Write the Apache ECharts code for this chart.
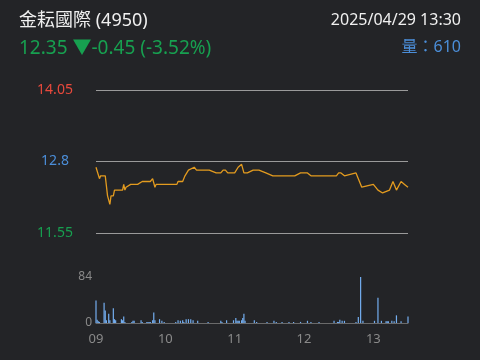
<!DOCTYPE html>
<html><head><meta charset="utf-8">
<script src="https://cdn.jsdelivr.net/npm/echarts/dist/echarts.min.js"></script>
<style>html,body{margin:0;padding:0;background:#232427;}#c{width:480px;height:360px;}</style>
</head><body><div id="c"></div>
<script>
const stockName = '金耘國際 (4950)';
const priceInfo = '12.35 ▼-0.45 (-3.52%)';
const dateText = '2025/04/29 13:30';
const volumeText = '量：610';
const hourLabels = ['09', '10', '11', '12', '13'];
const priceTicks = [11.55, 12.8, 14.05];
const priceTickColors = ['#17a050', '#4b8ed9', '#e8493c'];
const volumeMax = 84;

// minutes after 09:00 and price
const priceMinutes = [0, 3, 4, 8, 10, 12, 13, 15, 16, 23, 24, 25, 26, 30, 36, 40, 47, 49, 51, 52, 70, 71, 75, 77, 80, 85, 87, 89, 98, 104, 108, 110, 112, 114, 120, 123, 126, 128, 131, 136, 138, 141, 147, 153, 172, 177, 183, 186, 208, 210, 212, 215, 225, 227, 230, 240, 244, 248, 254, 257, 260, 264, 267, 270];
const priceValues = [12.70, 12.50, 12.55, 12.55, 12.20, 12.05, 12.20, 12.20, 12.30, 12.30, 12.40, 12.30, 12.35, 12.40, 12.40, 12.45, 12.45, 12.50, 12.35, 12.40, 12.40, 12.45, 12.45, 12.55, 12.65, 12.70, 12.65, 12.65, 12.65, 12.60, 12.60, 12.65, 12.65, 12.60, 12.60, 12.70, 12.75, 12.60, 12.60, 12.65, 12.65, 12.65, 12.60, 12.55, 12.55, 12.60, 12.60, 12.55, 12.55, 12.60, 12.60, 12.55, 12.60, 12.50, 12.35, 12.40, 12.30, 12.25, 12.30, 12.45, 12.30, 12.45, 12.40, 12.35];

// minutes after 09:00 and volume
const volMinutes = [0, 1, 2, 3, 7, 8, 9, 11, 12, 15, 16, 17, 22, 23, 24, 25, 31, 32, 33, 39, 40, 44, 45, 46, 47, 49, 50, 51, 55, 57, 59, 69, 71, 73, 75, 76, 78, 80, 82, 84, 88, 97, 108, 109, 113, 119, 121, 122, 123, 124, 126, 127, 128, 129, 137, 139, 148, 154, 156, 161, 167, 171, 177, 183, 186, 193, 206, 209, 210, 211, 213, 215, 225, 227, 229, 231, 241, 244, 247, 251, 252, 253, 256, 258, 260, 264, 270];
const volValues = [41, 6, 3, 2, 37, 23, 5, 17, 5, 27, 7, 5, 7, 5, 12, 2, 2, 4, 4, 5, 2, 2, 2, 2, 2, 5, 19, 5, 7, 4, 2, 2, 5, 4, 5, 2, 7, 7, 7, 5, 4, 2, 4, 2, 5, 5, 9, 4, 4, 4, 5, 9, 17, 4, 5, 2, 2, 4, 2, 2, 2, 2, 2, 4, 2, 2, 4, 2, 2, 6, 4, 4, 2, 11, 84, 4, 4, 46, 4, 3, 3, 3, 4, 3, 14, 3, 12];

const latin = '"Noto Sans", "Noto Sans CJK TC", sans-serif';
const chart = echarts.init(document.getElementById('c'), null, { renderer: 'canvas' });
chart.setOption({
  backgroundColor: '#232427',
  animation: false,
  grid: [
    { left: 96, right: 72, top: 90, bottom: 127 },
    { left: 96, right: 72, top: 277, bottom: 37 }
  ],
  xAxis: [
    { gridIndex: 0, type: 'value', min: 0, max: 270, interval: 60, show: false },
    {
      gridIndex: 1, type: 'value', min: 0, max: 270, interval: 60,
      axisLine: { show: true, lineStyle: { color: '#6a6a6a', width: 1 } },
      axisTick: { show: false },
      splitLine: { show: false },
      axisLabel: {
        color: '#8a8a8a', fontSize: 13, fontFamily: latin, margin: 10,
        showMaxLabel: false,
        formatter: v => (v % 60 === 0 ? (hourLabels[v / 60] || '') : '')
      }
    }
  ],
  yAxis: [
    {
      gridIndex: 0, type: 'value', min: priceTicks[0], max: priceTicks[2], interval: 1.25,
      axisLine: { show: false }, axisTick: { show: false },
      splitLine: { show: true, lineStyle: { color: '#9a9a9a', width: 1 } },
      axisLabel: {
        fontSize: 14, fontFamily: latin, align: 'center', margin: 41,
        formatter: v => String(Math.round(v * 100) / 100),
        color: (v) => {
          let best = 0;
          priceTicks.forEach((t, i) => { if (Math.abs(t - v) < Math.abs(priceTicks[best] - v)) best = i; });
          return priceTickColors[best];
        }
      }
    },
    {
      gridIndex: 1, type: 'value', min: 0, max: volumeMax, interval: volumeMax,
      axisLine: { show: false }, axisTick: { show: false },
      splitLine: { show: false },
      axisLabel: { color: '#8a8a8a', fontSize: 12, fontFamily: latin, margin: 4 }
    }
  ],
  series: [
    {
      type: 'line', xAxisIndex: 0, yAxisIndex: 0, symbol: 'none',
      lineStyle: { color: '#e39b1f', width: 1.3 },
      data: priceMinutes.map((m, i) => [m, priceValues[i]])
    },
    {
      type: 'bar', xAxisIndex: 1, yAxisIndex: 1, barWidth: 1.2,
      itemStyle: { color: '#74aef0' },
      data: volMinutes.map((m, i) => [m, volValues[i]])
    }
  ],
  graphic: [
    { type: 'text', left: 19, top: 12, style: { text: stockName, fill: '#f0f0f0', font: '18px ' + latin } },
    { type: 'text', left: 19, top: 39, style: { text: priceInfo, fill: '#17a050', font: '19px ' + latin } },
    { type: 'text', right: 19, top: 12, style: { text: dateText, fill: '#f0f0f0', font: '16px ' + latin } },
    { type: 'text', right: 19, top: 39, style: { text: volumeText, fill: '#4b8ed9', font: '16px ' + latin } }
  ]
});
</script>
</body></html>
